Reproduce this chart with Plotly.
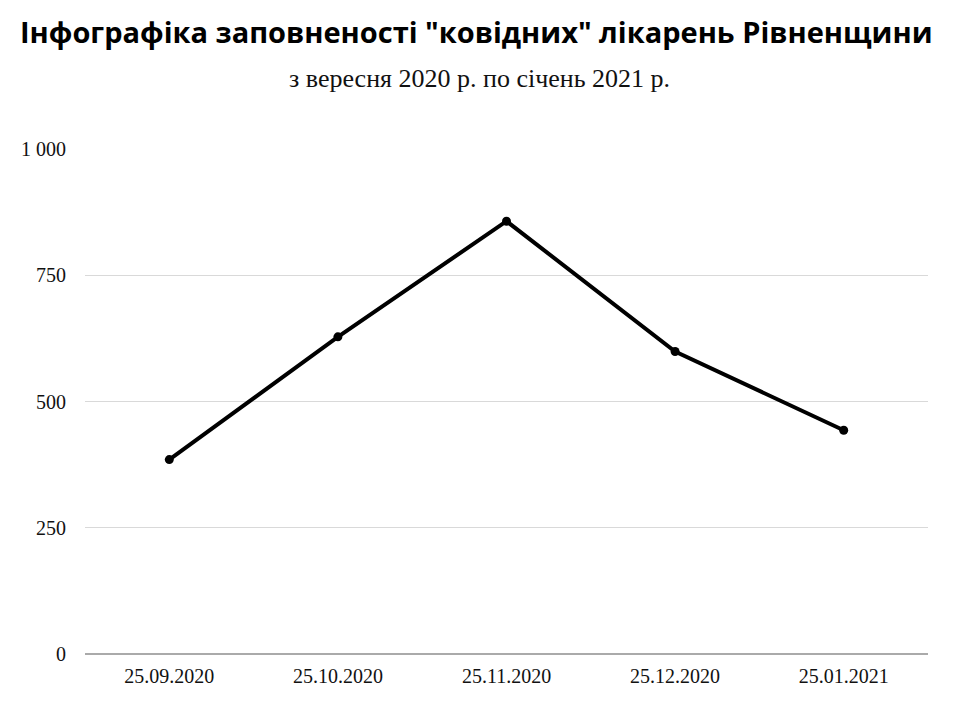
import plotly.graph_objects as go

dates = ["25.09.2020", "25.10.2020", "25.11.2020", "25.12.2020", "25.01.2021"]
occupied = [385, 628, 857, 599, 443]
y_ticks = [0, 250, 500, 750, 1000]
y_tick_labels = ["0", "250", "500", "750", "1 000"]

title_text = "Інфографіка заповненості \"ковідних\" лікарень Рівненщини"
subtitle_text = "з вересня 2020 р. по січень 2021 р."

fig = go.Figure()
fig.add_trace(go.Scatter(
    x=dates, y=occupied, mode="lines+markers",
    line=dict(color="black", width=4),
    marker=dict(color="black", size=9),
    showlegend=False,
))

fig.update_layout(
    width=960, height=720,
    paper_bgcolor="white", plot_bgcolor="white",
    margin=dict(l=77, r=40, t=141, b=74),
    font=dict(family="Liberation Serif, serif", color="#111", size=20),
    annotations=[
        dict(text="<b>" + title_text + "</b>", xref="paper", yref="paper",
             x=0.5, y=1, xanchor="center", yanchor="middle",
             xshift=-30, yshift=118, showarrow=False,
             font=dict(family="Open Sans, sans-serif", size=29, color="black")),
        dict(text=subtitle_text, xref="paper", yref="paper",
             x=0.5, y=1, xanchor="center", yanchor="middle",
             xshift=-27, yshift=71, showarrow=False,
             font=dict(family="Liberation Serif, serif", size=26, color="#111")),
    ],
)
fig.update_xaxes(
    type="category", range=[-0.5, 4.5], showgrid=False,
    showline=False, ticks="", ticklabelstandoff=8,
    tickfont=dict(size=20, color="#111"),
)
fig.update_yaxes(
    range=[0, 1000], tickvals=y_ticks, ticktext=y_tick_labels,
    showgrid=True, gridcolor="#d9d9d9", gridwidth=1,
    zeroline=True, zerolinecolor="#aaaaaa", zerolinewidth=2,
    showline=False, ticks="", ticklabelstandoff=18,
    tickfont=dict(size=20, color="#111"),
)

fig.write_html("out.html")
